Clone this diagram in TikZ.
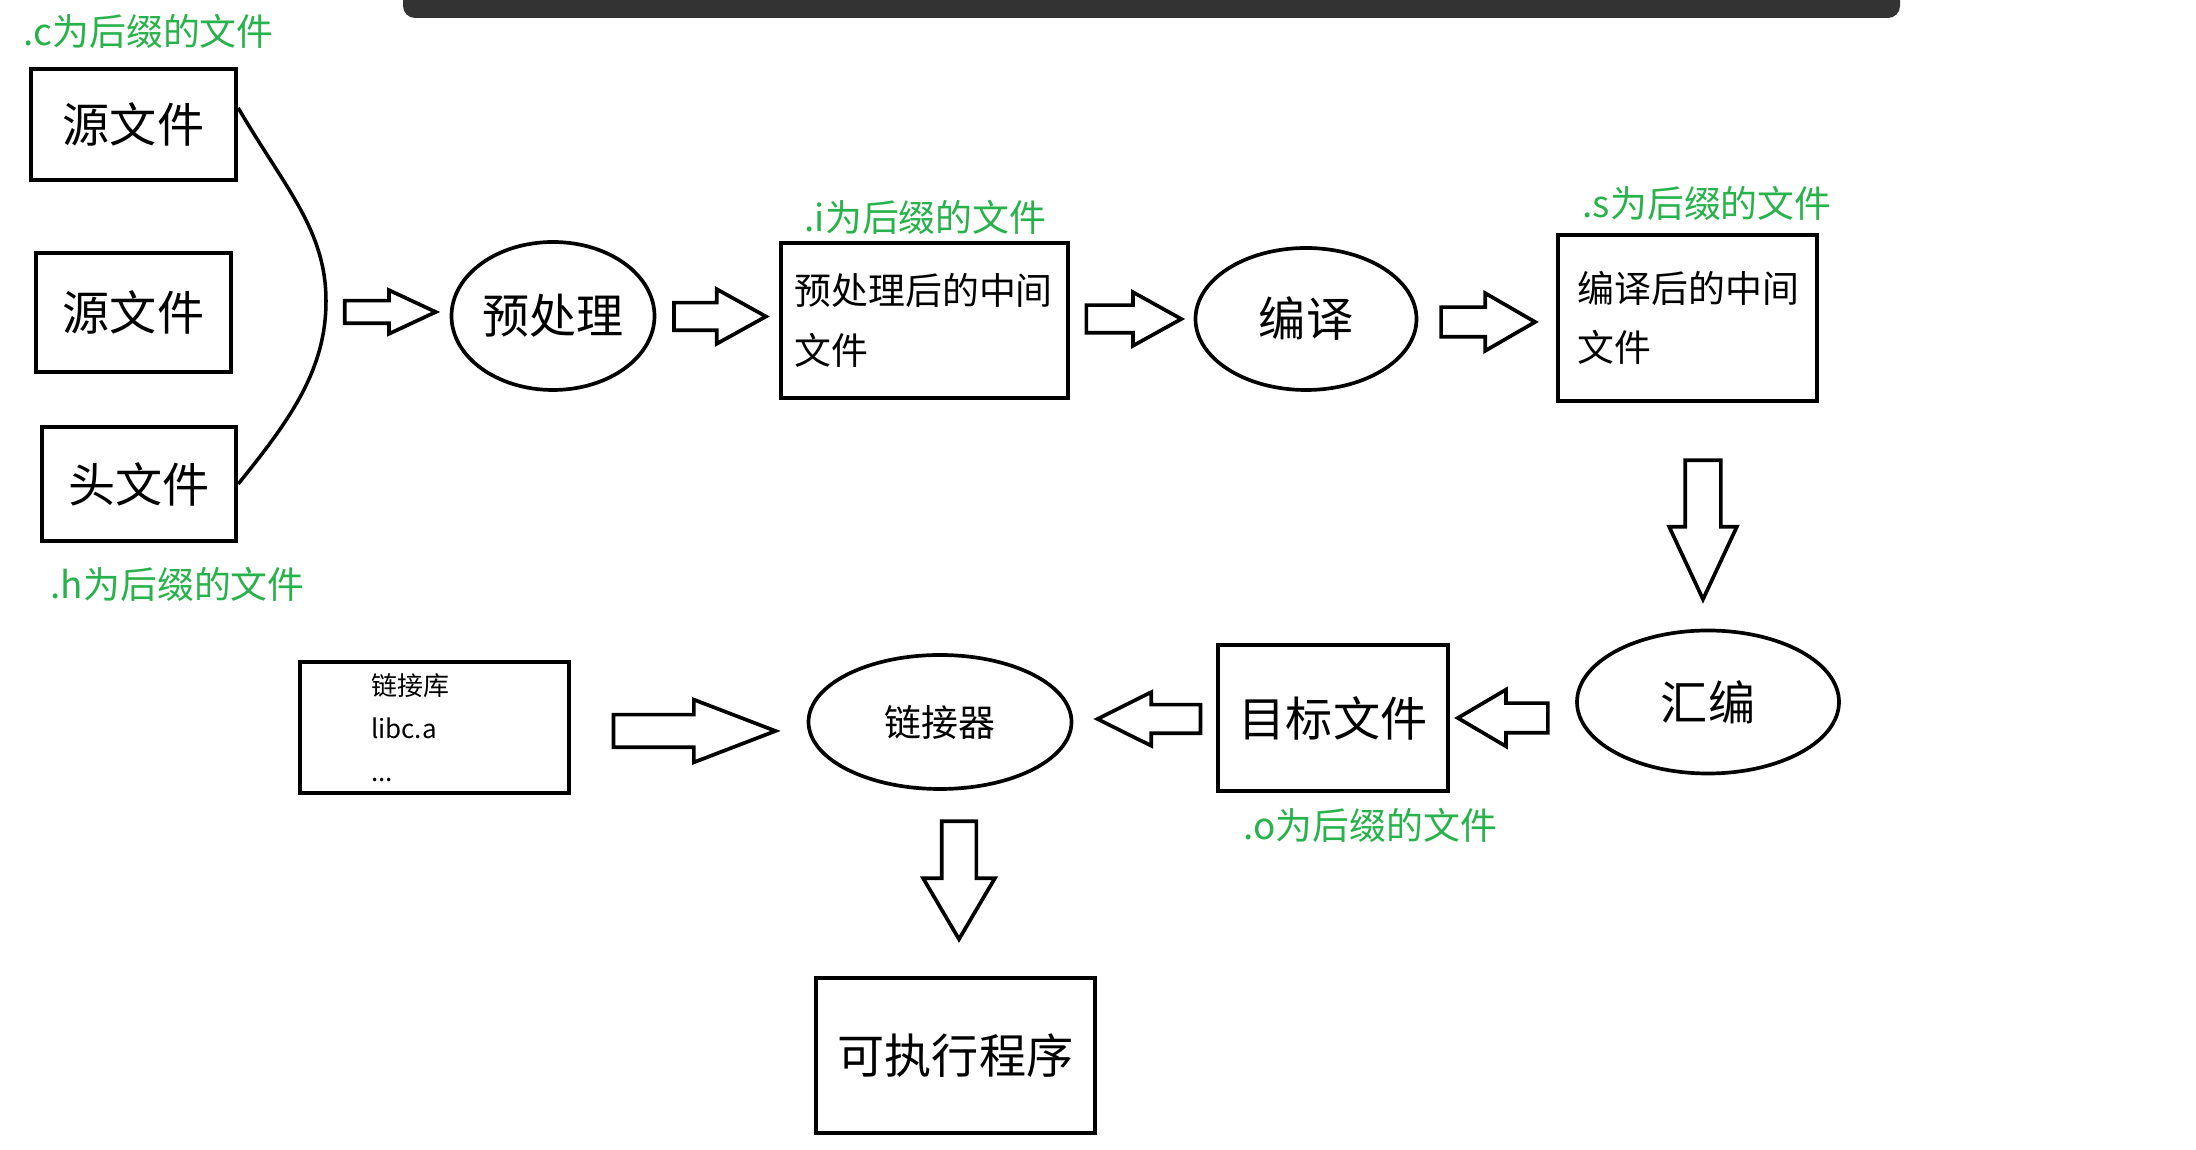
\documentclass[tikz,border=0pt]{standalone}
\usepackage{fontspec}
\setmainfont{Noto Sans CJK SC}
\usepackage{tikz}
\usetikzlibrary{shapes.geometric,shapes.arrows,calc}

\definecolor{suffix}{RGB}{40,178,75}
\definecolor{barcol}{RGB}{51,51,51}

\begin{document}
\begin{tikzpicture}[
  filebox/.style={draw, line width=1.25pt, inner sep=0pt, font=\fontsize{13.4}{16}\selectfont},
  midbox/.style={draw, line width=1.25pt, inner sep=0pt, align=left, font=\fontsize{10.5}{17}\selectfont},
  stage/.style={ellipse, draw, line width=1.05pt, inner sep=0pt, font=\fontsize{13.4}{16}\selectfont},
  tag/.style={anchor=west, inner sep=0pt, text=suffix, font=\fontsize{10.5}{13}\selectfont},
  fat/.style n args={4}{single arrow, draw, line width=1.05pt, inner sep=#2cm, anchor=tip,
    single arrow head indent=0pt, minimum height=#1cm,
    single arrow head extend=#3cm, single arrow tip angle=#4}]
  \useasboundingbox (0,0) rectangle (21.96,-11.5);

  % bar of the window behind
  \fill[barcol, rounded corners=0.12cm] (4.03,0.3) rectangle (19.00,-0.18);

  % inputs
  \node (src1) [filebox, minimum width=2.05cm, minimum height=1.11cm] at (1.335cm,-1.245cm) {源文件};
  \node (src2) [filebox, minimum width=1.95cm, minimum height=1.19cm] at (1.335cm,-3.125cm) {源文件};
  \node (hdr) [filebox, minimum width=1.94cm, minimum height=1.14cm] at (1.39cm,-4.84cm) {头文件};
  \node (ctag) [tag] at (0.23cm,-0.315cm) {.c为后缀的文件};
  \node (htag) [tag] at (0.50cm,-5.84cm) {.h为后缀的文件};

  \coordinate (join) at (3.26cm,-3.01cm);
  \draw[line width=1pt] (src1.9) .. controls (2.85,-1.88) and (3.26,-2.3) .. (join)
    .. controls (3.26,-3.7) and (2.9,-4.2) .. (hdr.east);

  % first row
  \node (pre) [stage, minimum width=2.03cm, minimum height=1.48cm] at (5.53cm,-3.16cm) {预处理};
  \node (ifile) [midbox, text width=2.6cm, minimum width=2.87cm, minimum height=1.55cm] at (9.245cm,-3.205cm) {预处理后的中间\\文件};
  \node (itag) [tag] at (8.04cm,-2.175cm) {.i为后缀的文件};
  \node (comp) [stage, minimum width=2.21cm, minimum height=1.42cm] at (13.06cm,-3.19cm) {编译};
  \node (sfile) [midbox, text width=2.2cm, minimum width=2.59cm, minimum height=1.66cm] at (16.875cm,-3.18cm) {编译后的中间\\文件};
  \node (stag) [tag] at (15.82cm,-2.035cm) {.s为后缀的文件};

  % second row
  \node (asm) [stage, minimum width=2.62cm, minimum height=1.43cm] at (17.08cm,-7.02cm) {汇编};
  \node (obj) [filebox, minimum width=2.30cm, minimum height=1.46cm] at (13.33cm,-7.18cm) {目标文件};
  \node (otag) [tag] at (12.43cm,-8.255cm) {.o为后缀的文件};
  \node (link) [stage, minimum width=2.63cm, minimum height=1.34cm, font=\fontsize{10.5}{13}\selectfont] at (9.40cm,-7.22cm) {链接器};
  \node (lib) [draw, line width=1.25pt, inner sep=0pt, align=left, text width=1.27cm,
    minimum width=2.69cm, minimum height=1.31cm, font=\fontsize{7.4}{12.2}\selectfont] at (4.345cm,-7.275cm) {链接库\\libc.a\\...};
  \node (exe) [filebox, minimum width=2.79cm, minimum height=1.55cm] at (9.555cm,-10.555cm) {可执行程序};

  % fat arrows, tip set short of the node they point at
  \node (a1) [fat={0.91}{0.095}{0.105}{50}] at ($(pre.west)+(-0.095,0.04)$) {};
  \node (a2) [fat={0.92}{0.12}{0.135}{58}] at ($(ifile.west)+(-0.09,0.04)$) {};
  \node (a3) [fat={0.95}{0.12}{0.13}{58}] at ($(comp.west)+(-0.085,0)$) {};
  \node (a4) [fat={0.94}{0.13}{0.14}{60}] at ($(sfile.west)+(-0.17,-0.04)$) {};
  \node (a5) [fat={1.39}{0.16}{0.16}{50}, shape border rotate=270] at ($(asm.north)+(-0.05,0.25)$) {};
  \node (a6) [fat={0.90}{0.13}{0.135}{61}, shape border rotate=180] at ($(obj.east)+(0.04,0)$) {};
  \node (a7) [fat={1.03}{0.125}{0.125}{53}, shape border rotate=180] at ($(link.east)+(0.20,0.03)$) {};
  \node (a8) [fat={1.62}{0.145}{0.15}{42}] at ($(link.west)+(-0.26,-0.09)$) {};
  \node (a9) [fat={1.18}{0.155}{0.185}{61}, shape border rotate=270] at ($(exe.north)+(0.035,0.33)$) {};
\end{tikzpicture}
\end{document}
